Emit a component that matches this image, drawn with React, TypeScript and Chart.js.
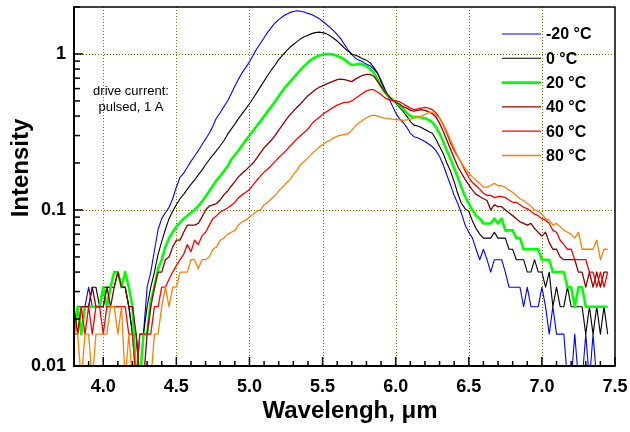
import React, { useEffect, useRef } from 'react';
import { Chart, registerables } from 'chart.js';

Chart.register(...registerables);

// sampling grid of the spectra (µm)
const WL_START = 3.8;
const WL_STEP = 0.025;
const WL_COUNT = 147;
const wavelength: number[] = Array.from({ length: WL_COUNT }, (_, i) => +(WL_START + i * WL_STEP).toFixed(3));

const seriesLabels = ['-20 °C', '0 °C', '20 °C', '40 °C', '60 °C', '80 °C'];
const seriesColors = ['#0000ff', '#000000', '#00ff00', '#8b0000', '#ff0000', '#ff8000'];
const seriesWidths = [1.1, 1.1, 2.6, 1.3, 1.3, 1.3];

const xTickValues = [4.0, 4.5, 5.0, 5.5, 6.0, 6.5, 7.0, 7.5];
const yTickValues = [0.01, 0.1, 1];

const noteLines = ['drive current:', 'pulsed, 1 A'];
const xTitle = 'Wavelengh, \u03bcm';
const yTitle = 'Intensity';

// -20 °C
const tempM20 = [
  0.016, 0.024, 0.024, 0.024, 0.032, 0.024, 0.024, 0.024, 0.024, 0.032,
  0.032, 0.04, 0.04, 0.032, 0.032, 0.024, 0.016, 0.008, 0.016, 0.016,
  0.032, 0.04, 0.055, 0.075, 0.088, 0.096, 0.104, 0.118, 0.14, 0.162,
  0.172, 0.188, 0.205, 0.222, 0.24, 0.262, 0.285, 0.31, 0.345, 0.39,
  0.42, 0.46, 0.5, 0.555, 0.62, 0.69, 0.76, 0.82, 0.89, 0.98,
  1.08, 1.17, 1.27, 1.38, 1.48, 1.58, 1.66, 1.73, 1.79, 1.84,
  1.87, 1.89, 1.88, 1.86, 1.82, 1.79, 1.74, 1.69, 1.62, 1.55,
  1.48, 1.41, 1.33, 1.25, 1.15, 1.06, 0.99, 0.94, 0.91, 0.89,
  0.86, 0.84, 0.8, 0.75, 0.68, 0.6, 0.53, 0.47, 0.42, 0.385,
  0.365, 0.34, 0.31, 0.295, 0.29, 0.283, 0.275, 0.265, 0.255, 0.24,
  0.22, 0.195, 0.167, 0.145, 0.124, 0.11, 0.095, 0.08, 0.072, 0.066,
  0.056, 0.048, 0.056, 0.048, 0.04, 0.048, 0.048, 0.048, 0.04, 0.032,
  0.032, 0.032, 0.032, 0.024, 0.032, 0.024, 0.024, 0.024, 0.032, 0.024,
  0.016, 0.024, 0.016, 0.016, 0.016, 0.008, 0.008, 0.016, 0.008, 0.008,
  0.016, 0.008, 0.016, 0.008, 0.008, null, null,
];

// 0 °C
const temp0 = [
  0.016, 0.024, 0.016, 0.024, 0.024, 0.032, 0.032, 0.024, 0.032, 0.032,
  0.032, 0.032, 0.04, 0.032, 0.032, 0.024, 0.016, 0.016, 0.008, 0.016,
  0.024, 0.032, 0.04, 0.052, 0.063, 0.075, 0.088, 0.098, 0.108, 0.118,
  0.126, 0.136, 0.146, 0.156, 0.168, 0.18, 0.195, 0.21, 0.225, 0.24,
  0.258, 0.278, 0.305, 0.33, 0.355, 0.385, 0.415, 0.445, 0.48, 0.52,
  0.565, 0.615, 0.67, 0.73, 0.79, 0.85, 0.92, 0.98, 1.04, 1.1,
  1.15, 1.2, 1.25, 1.29, 1.32, 1.35, 1.37, 1.38, 1.37, 1.35,
  1.31, 1.26, 1.21, 1.15, 1.09, 1.04, 1.0, 0.98, 0.96, 0.93,
  0.91, 0.88, 0.82, 0.76, 0.66, 0.59, 0.54, 0.51, 0.485, 0.455,
  0.43, 0.4, 0.37, 0.35, 0.345, 0.338, 0.328, 0.318, 0.31, 0.285,
  0.255, 0.23, 0.2, 0.177, 0.152, 0.127, 0.11, 0.102, 0.098, 0.085,
  0.076, 0.07, 0.066, 0.066, 0.066, 0.072, 0.066, 0.066, 0.066, 0.056,
  0.056, 0.048, 0.048, 0.048, 0.04, 0.04, 0.048, 0.04, 0.04, 0.032,
  0.04, 0.024, 0.032, 0.024, 0.024, 0.032, 0.024, 0.024, 0.024, 0.024,
  0.016, 0.024, 0.016, 0.024, 0.016, 0.024, 0.016,
];

// 20 °C
const temp20 = [
  0.016, 0.024, 0.016, 0.024, 0.024, 0.024, 0.024, 0.024, 0.032, 0.024,
  0.032, 0.04, 0.04, 0.032, 0.04, 0.032, 0.024, 0.008, 0.008, 0.016,
  0.016, 0.026, 0.032, 0.042, 0.048, 0.058, 0.066, 0.072, 0.078, 0.083,
  0.088, 0.092, 0.096, 0.1, 0.106, 0.113, 0.122, 0.132, 0.143, 0.155,
  0.165, 0.177, 0.19, 0.21, 0.225, 0.24, 0.26, 0.28, 0.3, 0.322,
  0.345, 0.37, 0.398, 0.43, 0.46, 0.495, 0.535, 0.58, 0.62, 0.66,
  0.7, 0.745, 0.79, 0.835, 0.88, 0.92, 0.95, 0.975, 0.99, 1.0,
  1.0, 0.99, 0.97, 0.95, 0.92, 0.88, 0.85, 0.855, 0.865, 0.855,
  0.835, 0.8, 0.76, 0.69, 0.62, 0.57, 0.535, 0.51, 0.49, 0.47,
  0.445, 0.42, 0.4, 0.395, 0.394, 0.392, 0.387, 0.378, 0.366, 0.34,
  0.31, 0.275, 0.24, 0.213, 0.185, 0.162, 0.14, 0.122, 0.11, 0.1,
  0.092, 0.088, 0.082, 0.082, 0.082, 0.088, 0.082, 0.088, 0.074, 0.074,
  0.074, 0.066, 0.066, 0.056, 0.056, 0.056, 0.056, 0.056, 0.048, 0.048,
  0.048, 0.04, 0.04, 0.04, 0.04, 0.032, 0.032, 0.024, 0.032, 0.032,
  0.024, 0.024, 0.024, 0.024, 0.024, 0.024, 0.024,
];

// 40 °C
const temp40 = [
  0.024, 0.016, 0.024, 0.024, 0.024, 0.032, 0.024, 0.024, 0.024, 0.032,
  0.024, 0.032, 0.04, 0.032, 0.032, 0.024, 0.024, 0.016, 0.008, 0.008,
  0.016, 0.024, 0.032, 0.04, 0.04, 0.048, 0.05, 0.058, 0.064, 0.064,
  0.072, 0.08, 0.08, 0.08, 0.082, 0.09, 0.1, 0.106, 0.108, 0.11,
  0.116, 0.125, 0.132, 0.142, 0.152, 0.163, 0.172, 0.18, 0.19, 0.2,
  0.215, 0.232, 0.25, 0.265, 0.28, 0.3, 0.325, 0.35, 0.378, 0.405,
  0.43, 0.455, 0.48, 0.51, 0.54, 0.565, 0.59, 0.61, 0.625, 0.64,
  0.655, 0.67, 0.685, 0.69, 0.685, 0.675, 0.665, 0.69, 0.71, 0.73,
  0.74, 0.74, 0.72, 0.67, 0.62, 0.575, 0.54, 0.51, 0.49, 0.478,
  0.46, 0.45, 0.435, 0.43, 0.435, 0.44, 0.435, 0.425, 0.415, 0.395,
  0.36, 0.32, 0.28, 0.245, 0.215, 0.19, 0.172, 0.157, 0.145, 0.134,
  0.126, 0.122, 0.118, 0.115, 0.1, 0.108, 0.105, 0.105, 0.1, 0.096,
  0.092, 0.088, 0.084, 0.082, 0.08, 0.082, 0.076, 0.072, 0.068, 0.072,
  0.062, 0.056, 0.056, 0.05, 0.048, 0.048, 0.048, 0.048, 0.04, 0.04,
  0.032, 0.04, 0.032, 0.04, 0.032, 0.04, 0.04,
];

// 60 °C
const temp60 = [
  0.016, 0.016, 0.024, 0.016, 0.024, 0.016, 0.024, 0.024, 0.016, 0.024,
  0.024, 0.024, 0.024, 0.024, 0.024, 0.016, 0.016, 0.008, 0.016, 0.016,
  0.016, 0.016, 0.024, 0.024, 0.032, 0.032, 0.036, 0.04, 0.044, 0.048,
  0.052, 0.06, 0.054, 0.064, 0.06, 0.068, 0.072, 0.08, 0.088, 0.092,
  0.097, 0.1, 0.103, 0.107, 0.112, 0.12, 0.125, 0.13, 0.135, 0.145,
  0.155, 0.165, 0.175, 0.183, 0.193, 0.205, 0.217, 0.228, 0.24, 0.255,
  0.27, 0.285, 0.3, 0.315, 0.33, 0.355, 0.375, 0.39, 0.41, 0.425,
  0.44, 0.455, 0.47, 0.48, 0.49, 0.49, 0.5, 0.52, 0.54, 0.56,
  0.58, 0.59, 0.59, 0.57, 0.55, 0.525, 0.51, 0.505, 0.5, 0.495,
  0.48, 0.465, 0.45, 0.44, 0.445, 0.45, 0.455, 0.45, 0.44, 0.42,
  0.39, 0.35, 0.31, 0.27, 0.24, 0.22, 0.2, 0.178, 0.162, 0.15,
  0.143, 0.136, 0.128, 0.124, 0.124, 0.12, 0.122, 0.122, 0.12, 0.116,
  0.112, 0.112, 0.108, 0.104, 0.102, 0.098, 0.094, 0.092, 0.088, 0.086,
  0.082, 0.074, 0.072, 0.064, 0.06, 0.056, 0.056, 0.048, 0.048, 0.048,
  0.048, 0.04, 0.04, 0.032, 0.04, 0.032, 0.04,
];

// 80 °C
const temp80 = [
  0.016, 0.016, 0.008, 0.016, 0.016, 0.008, 0.016, 0.016, 0.016, 0.016,
  0.024, 0.024, 0.016, 0.024, 0.008, 0.016, 0.008, 0.008, 0.008, 0.008,
  0.008, 0.008, 0.016, 0.016, 0.024, 0.032, 0.024, 0.032, 0.032, 0.04,
  0.04, 0.04, 0.048, 0.048, 0.042, 0.048, 0.048, 0.05, 0.056, 0.058,
  0.064, 0.066, 0.07, 0.072, 0.074, 0.08, 0.084, 0.086, 0.09, 0.094,
  0.098, 0.1, 0.108, 0.112, 0.118, 0.124, 0.132, 0.14, 0.148, 0.156,
  0.168, 0.18, 0.196, 0.205, 0.215, 0.228, 0.24, 0.252, 0.262, 0.272,
  0.28, 0.29, 0.297, 0.302, 0.305, 0.308, 0.325, 0.345, 0.362, 0.376,
  0.39, 0.4, 0.405, 0.4, 0.392, 0.388, 0.385, 0.382, 0.38, 0.378,
  0.376, 0.378, 0.382, 0.388, 0.395, 0.4, 0.41, 0.42, 0.425, 0.405,
  0.39, 0.355, 0.32, 0.28, 0.25, 0.22, 0.2, 0.185, 0.172, 0.163,
  0.155, 0.148, 0.14, 0.14, 0.144, 0.148, 0.143, 0.143, 0.14, 0.134,
  0.13, 0.124, 0.118, 0.115, 0.11, 0.106, 0.1, 0.098, 0.094, 0.088,
  0.086, 0.08, 0.082, 0.078, 0.074, 0.072, 0.07, 0.066, 0.072, 0.056,
  0.056, 0.056, 0.056, 0.064, 0.048, 0.056, 0.056,
];

const seriesValues = [tempM20, temp0, temp20, temp40, temp60, temp80];

const FONT = "'Liberation Sans', Arial, sans-serif";

const decorPlugin = {
  id: 'decor',
  beforeDatasetsDraw(chart: any) {
    const { ctx, chartArea, scales } = chart;
    const xs = scales.x;
    const ys = scales.y;
    ctx.save();
    ctx.strokeStyle = '#7a7a00';
    ctx.lineWidth = 1;
    ctx.setLineDash([1, 2]);
    xTickValues.forEach((v) => {
      if (v <= xs.min || v >= xs.max) return;
      const px = Math.round(xs.getPixelForValue(v)) + 0.5;
      ctx.beginPath();
      ctx.moveTo(px, chartArea.top);
      ctx.lineTo(px, chartArea.bottom);
      ctx.stroke();
    });
    yTickValues.forEach((v) => {
      if (v <= ys.min || v >= ys.max) return;
      const py = Math.round(ys.getPixelForValue(v)) + 0.5;
      ctx.beginPath();
      ctx.moveTo(chartArea.left, py);
      ctx.lineTo(chartArea.right, py);
      ctx.stroke();
    });
    ctx.restore();
  },
  afterDatasetsDraw(chart: any) {
    const { ctx, chartArea, scales } = chart;
    const xs = scales.x;
    const ys = scales.y;
    const { left, right, top, bottom } = chartArea;
    ctx.save();
    ctx.setLineDash([]);
    ctx.strokeStyle = '#000';
    // minor & major ticks, x axis (inside)
    ctx.lineWidth = 1.5;
    for (let k = 38; k <= 75; k++) {
      const v = k / 10;
      const major = k % 5 === 0;
      const px = xs.getPixelForValue(v);
      ctx.beginPath();
      ctx.moveTo(px, bottom);
      ctx.lineTo(px, bottom - (major ? 9 : 5));
      ctx.stroke();
    }
    // y axis ticks
    [0.01, 0.1, 1].forEach((dec) => {
      for (let m = 1; m <= 9; m++) {
        const v = dec * m;
        if (v > ys.max + 1e-9) break;
        const py = ys.getPixelForValue(v);
        ctx.beginPath();
        ctx.moveTo(left, py);
        ctx.lineTo(left + (m === 1 ? 9 : 6), py);
        ctx.stroke();
      }
    });
    // frame
    ctx.lineWidth = 1.5;
    ctx.beginPath();
    ctx.moveTo(left, top);
    ctx.lineTo(right, top);
    ctx.lineTo(right, bottom);
    ctx.stroke();
    ctx.lineWidth = 2;
    ctx.beginPath();
    ctx.moveTo(left, top - 0.75);
    ctx.lineTo(left, bottom);
    ctx.lineTo(right + 0.75, bottom);
    ctx.stroke();

    // axis titles
    ctx.fillStyle = '#000';
    ctx.font = `bold 24px ${FONT}`;
    ctx.textAlign = 'center';
    ctx.textBaseline = 'alphabetic';
    ctx.fillText(xTitle, 350, 418);
    ctx.save();
    ctx.translate(28, 168);
    ctx.rotate(-Math.PI / 2);
    ctx.fillText(yTitle, 0, 0);
    ctx.restore();

    // note
    ctx.font = `13px ${FONT}`;
    ctx.textBaseline = 'middle';
    ctx.fillText(noteLines[0], 131, 91);
    ctx.fillText(noteLines[1], 131, 107.5);

    // legend
    ctx.textAlign = 'left';
    ctx.font = `bold 16px ${FONT}`;
    seriesLabels.forEach((lab, i) => {
      const y = 34 + i * 24.3;
      ctx.strokeStyle = seriesColors[i];
      ctx.lineWidth = seriesWidths[i];
      ctx.beginPath();
      ctx.moveTo(502, y);
      ctx.lineTo(541, y);
      ctx.stroke();
      ctx.fillStyle = '#000';
      ctx.fillText(lab, 546, y + 1);
    });
    ctx.restore();
  },
};

const zeroPad = (s: any) => {
  s.paddingTop = 0;
  s.paddingBottom = 0;
  s.paddingLeft = 0;
  s.paddingRight = 0;
};

export default function App() {
  const canvasRef = useRef<HTMLCanvasElement | null>(null);

  useEffect(() => {
    const canvas = canvasRef.current;
    if (!canvas) return;
    const datasets = seriesValues.map((vals, i) => ({
      label: seriesLabels[i],
      data: wavelength.map((x, j) => ({ x, y: vals[j] })),
      borderColor: seriesColors[i],
      backgroundColor: seriesColors[i],
      borderWidth: seriesWidths[i],
      pointRadius: 0,
      tension: 0,
      fill: false,
      spanGaps: false,
      borderJoinStyle: 'round' as const,
      order: seriesValues.length - i,
    }));
    const chart = new Chart(canvas, {
      type: 'line',
      data: { datasets },
      options: {
        responsive: false,
        animation: false,
        layout: { padding: { left: 0, right: 15, top: 7, bottom: 0 } },
        plugins: { legend: { display: false }, tooltip: { enabled: false }, title: { display: false } },
        scales: {
          x: {
            type: 'linear',
            min: 3.8,
            max: 7.5,
            afterBuildTicks: (s: any) => {
              s.ticks = xTickValues.map((v) => ({ value: v }));
            },
            afterFit: (s: any) => {
              s.height = 66;
              zeroPad(s);
            },
            grid: { display: false, drawTicks: false },
            border: { display: false },
            ticks: {
              padding: 10,
              color: '#000',
              autoSkip: false,
              maxRotation: 0,
              font: { family: FONT, size: 18, weight: 'bold' },
              callback: (v: any) => Number(v).toFixed(1),
            },
          },
          y: {
            type: 'logarithmic',
            min: 0.01,
            max: 2,
            afterBuildTicks: (s: any) => {
              s.ticks = yTickValues.map((v) => ({ value: v }));
            },
            afterFit: (s: any) => {
              s.width = 74;
              zeroPad(s);
            },
            grid: { display: false, drawTicks: false },
            border: { display: false },
            ticks: {
              padding: 8,
              color: '#000',
              autoSkip: false,
              font: { family: FONT, size: 18, weight: 'bold' },
              callback: (v: any) => String(Number(v)),
            },
          },
        },
      },
      plugins: [decorPlugin],
    });
    return () => chart.destroy();
  }, []);

  return (
    <div style={{ position: 'fixed', left: 0, top: 0, width: 630, height: 432, background: '#fff' }}>
      <canvas ref={canvasRef} width={630} height={432} />
    </div>
  );
}
